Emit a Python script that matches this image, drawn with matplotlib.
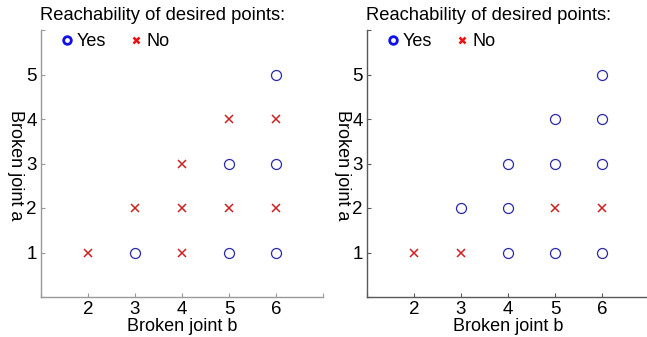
import matplotlib
matplotlib.use("Agg")
import matplotlib.pyplot as plt
from matplotlib.lines import Line2D

plt.rcParams['font.family'] = ['Liberation Sans', 'DejaVu Sans']

# Left panel
left_yes_b = [3, 5, 6, 5, 6, 6]
left_yes_a = [1, 1, 1, 3, 3, 5]
left_no_b = [2, 4, 3, 4, 5, 6, 4, 5, 6]
left_no_a = [1, 1, 2, 2, 2, 2, 3, 4, 4]

# Right panel
right_yes_b = [3, 4, 4, 4, 5, 5, 5, 6, 6, 6, 6]
right_yes_a = [2, 1, 2, 3, 1, 3, 4, 1, 3, 4, 5]
right_no_b = [2, 3, 5, 6]
right_no_a = [1, 1, 2, 2]

x_ticks = [2, 3, 4, 5, 6]
y_ticks = [1, 2, 3, 4, 5]
title = "Reachability of desired points:"
xlabel = "Broken joint b"
ylabel = "Broken joint a"

W, H = 647, 337
fig = plt.figure(figsize=(W / 100, H / 100), dpi=100)

panels = [
    (41, left_yes_b, left_yes_a, left_no_b, left_no_a, 15, '0.6'),
    (367, right_yes_b, right_yes_a, right_no_b, right_no_a, 342, '0.35'),
]
for x0, yb, ya, nb, na, ylx, spc in panels:
    ax = fig.add_axes([x0 / W, 1 - 297 / H, 282 / W, 267 / H])
    ax.plot(yb, ya, 'o', ls='none', ms=7.2, mfc='none', mec='#2a2aa8', mew=0.9)
    ax.plot(nb, na, 'x', ls='none', ms=5.5, mec='#cc2222', mew=1.1)
    ax.set_xlim(1, 7)
    ax.set_ylim(0, 6)
    ax.set_xticks(x_ticks)
    ax.set_yticks(y_ticks)
    ax.set_xticks([1, 7], minor=True)
    ax.set_yticks([0, 6], minor=True)
    ax.tick_params(which='both', labelsize=13.5, length=3, width=0.8,
                   color=spc, pad=3, direction='in')
    ax.tick_params(which='minor', length=3)
    for s in ['top', 'right']:
        ax.spines[s].set_visible(False)
    for s in ['left', 'bottom']:
        ax.spines[s].set_color(spc)
        ax.spines[s].set_linewidth(1.0)
    ax.set_xlabel(xlabel, fontsize=13, labelpad=0)
    fig.text(ylx / W, 1 - 165 / H, ylabel, rotation=270, fontsize=13,
             ha='center', va='center')
    fig.text((x0 + 122) / W, 1 - 15 / H, title, fontsize=13.2, ha='center', va='center')
    handles = [
        Line2D([], [], ls='none', marker='o', ms=5.5, mfc='none', mec='#1010ee', mew=2),
        Line2D([], [], ls='none', marker='x', ms=4.5, mec='#ee1010', mew=1.8),
    ]
    ax.legend(handles, ['Yes', 'No'], ncol=2, frameon=False, fontsize=13,
              loc='upper left', bbox_to_anchor=(0.03, 1.035),
              handlelength=0.5, handletextpad=0.3, columnspacing=1.42,
              borderpad=0.2)

fig.savefig("out.png", dpi=100)
